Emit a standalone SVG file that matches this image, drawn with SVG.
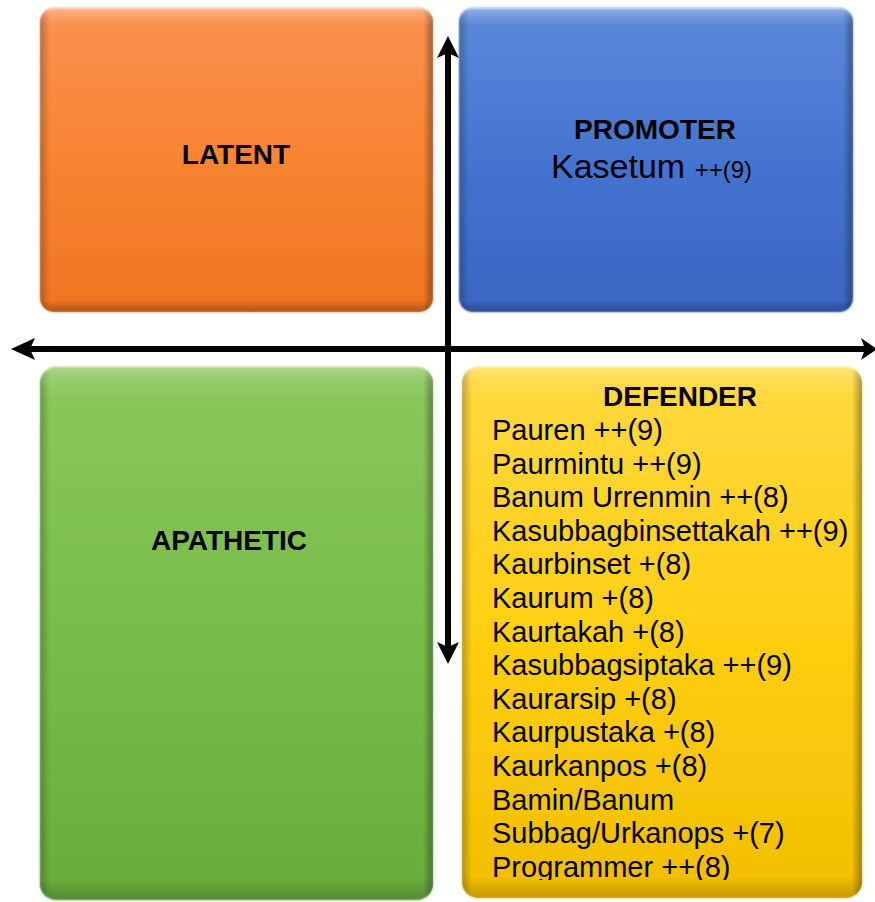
<svg xmlns="http://www.w3.org/2000/svg" width="875" height="902" viewBox="0 0 875 902">
  <defs>
    <linearGradient id="gOrange" x1="0" y1="0" x2="0" y2="1">
      <stop offset="0" stop-color="#FA9150"/>
      <stop offset="0.5" stop-color="#F88431"/>
      <stop offset="1" stop-color="#F07522"/>
    </linearGradient>
    <linearGradient id="gBlue" x1="0" y1="0" x2="0" y2="1">
      <stop offset="0" stop-color="#5C8ADA"/>
      <stop offset="0.5" stop-color="#4474D0"/>
      <stop offset="1" stop-color="#3A66C2"/>
    </linearGradient>
    <linearGradient id="gGreen" x1="0" y1="0" x2="0" y2="1">
      <stop offset="0" stop-color="#8CC85C"/>
      <stop offset="0.5" stop-color="#78BD4A"/>
      <stop offset="1" stop-color="#69AC3C"/>
    </linearGradient>
    <linearGradient id="gYellow" x1="0" y1="0" x2="0" y2="1">
      <stop offset="0" stop-color="#FFD940"/>
      <stop offset="0.5" stop-color="#FFCF12"/>
      <stop offset="1" stop-color="#F2BE00"/>
    </linearGradient>
    <!-- side shading for the bevelled tiles -->
    <linearGradient id="gSide" x1="0" y1="0" x2="1" y2="0">
      <stop offset="0" stop-color="#000" stop-opacity="0.25"/>
      <stop offset="0.025" stop-color="#000" stop-opacity="0"/>
      <stop offset="0.975" stop-color="#000" stop-opacity="0"/>
      <stop offset="1" stop-color="#000" stop-opacity="0.35"/>
    </linearGradient>
    <linearGradient id="gTop" x1="0" y1="0" x2="0" y2="1">
      <stop offset="0" stop-color="#fff" stop-opacity="0.35"/>
      <stop offset="0.03" stop-color="#fff" stop-opacity="0.12"/>
      <stop offset="0.06" stop-color="#fff" stop-opacity="0"/>
      <stop offset="0.96" stop-color="#000" stop-opacity="0"/>
      <stop offset="1" stop-color="#000" stop-opacity="0.28"/>
    </linearGradient>
    <filter id="soft" x="-5%" y="-5%" width="110%" height="110%">
      <feGaussianBlur stdDeviation="1.2"/>
    </filter>
    <clipPath id="listClip">
      <rect x="462" y="360" width="400" height="520"/>
    </clipPath>
  </defs>
  <style>
    .tile { stroke: none; }
    .title { font-family: "Liberation Sans", Arial, sans-serif; font-weight: bold; font-size: 28px; fill: #000; text-anchor: middle; }
    .item { font-family: "Liberation Sans", Arial, sans-serif; font-size: 29px; fill: #000; }
    .sub { font-family: "Liberation Sans", Arial, sans-serif; fill: #000; }
    .axis { stroke: #000; stroke-width: 6; fill: none; }
    .head { fill: #000; stroke: none; }
  </style>

  <!-- LATENT tile -->
  <g id="latent">
    <rect class="tile" x="40" y="8" width="393" height="304" rx="14" fill="url(#gOrange)" filter="url(#soft)"/>
    <rect class="tile" x="40" y="8" width="393" height="304" rx="14" fill="url(#gSide)"/>
    <rect class="tile" x="40" y="8" width="393" height="304" rx="14" fill="url(#gTop)"/>
    <text class="title" x="236" y="164">LATENT</text>
  </g>

  <!-- PROMOTER tile -->
  <g id="promoter">
    <rect class="tile" x="459" y="8" width="394" height="304" rx="14" fill="url(#gBlue)" filter="url(#soft)"/>
    <rect class="tile" x="459" y="8" width="394" height="304" rx="14" fill="url(#gSide)"/>
    <rect class="tile" x="459" y="8" width="394" height="304" rx="14" fill="url(#gTop)"/>
    <text class="title" x="655" y="139">PROMOTER</text>
    <text class="sub" x="551" y="178"><tspan font-size="34">Kasetum </tspan><tspan font-size="24">++(9)</tspan></text>
  </g>

  <!-- APATHETIC tile -->
  <g id="apathetic">
    <rect class="tile" x="40" y="367" width="393" height="533" rx="16" fill="url(#gGreen)" filter="url(#soft)"/>
    <rect class="tile" x="40" y="367" width="393" height="533" rx="16" fill="url(#gSide)"/>
    <rect class="tile" x="40" y="367" width="393" height="533" rx="16" fill="url(#gTop)" opacity="0.7"/>
    <text class="title" x="229" y="550" font-size="29">APATHETIC</text>
  </g>

  <!-- DEFENDER tile -->
  <g id="defender">
    <rect class="tile" x="462" y="367" width="400" height="531" rx="16" fill="url(#gYellow)" filter="url(#soft)"/>
    <rect class="tile" x="462" y="367" width="400" height="531" rx="16" fill="url(#gSide)"/>
    <rect class="tile" x="462" y="367" width="400" height="531" rx="16" fill="url(#gTop)" opacity="0.7"/>
    <text class="title" x="680" y="406">DEFENDER</text>
    <g clip-path="url(#listClip)">
      <text class="item" x="492" y="440">Pauren ++(9)</text>
      <text class="item" x="492" y="473.6">Paurmintu ++(9)</text>
      <text class="item" x="492" y="507.2">Banum Urrenmin ++(8)</text>
      <text class="item" x="492" y="540.8">Kasubbagbinsettakah ++(9)</text>
      <text class="item" x="492" y="574.4">Kaurbinset +(8)</text>
      <text class="item" x="492" y="608">Kaurum +(8)</text>
      <text class="item" x="492" y="641.6">Kaurtakah +(8)</text>
      <text class="item" x="492" y="675.2">Kasubbagsiptaka ++(9)</text>
      <text class="item" x="492" y="708.8">Kaurarsip +(8)</text>
      <text class="item" x="492" y="742.4">Kaurpustaka +(8)</text>
      <text class="item" x="492" y="776">Kaurkanpos +(8)</text>
      <text class="item" x="492" y="809.6">Bamin/Banum</text>
      <text class="item" x="492" y="843.2">Subbag/Urkanops +(7)</text>
      <text class="item" x="492" y="876.8">Programmer ++(8)</text>
    </g>
  </g>

  <!-- axes -->
  <g id="connectors">
    <line class="axis" x1="448" y1="50" x2="448" y2="650"/>
    <path class="head" d="M448,36 L459,58 L448,53 L437,58 Z"/>
    <path class="head" d="M448,664 L459,642 L448,647 L437,642 Z"/>
    <line class="axis" x1="28" y1="349" x2="866" y2="349"/>
    <path class="head" d="M11,349 L35,338 L30,349 L35,360 Z"/>
    <path class="head" d="M877,349 L861,338 L865,349 L861,360 Z"/>
  </g>
</svg>
